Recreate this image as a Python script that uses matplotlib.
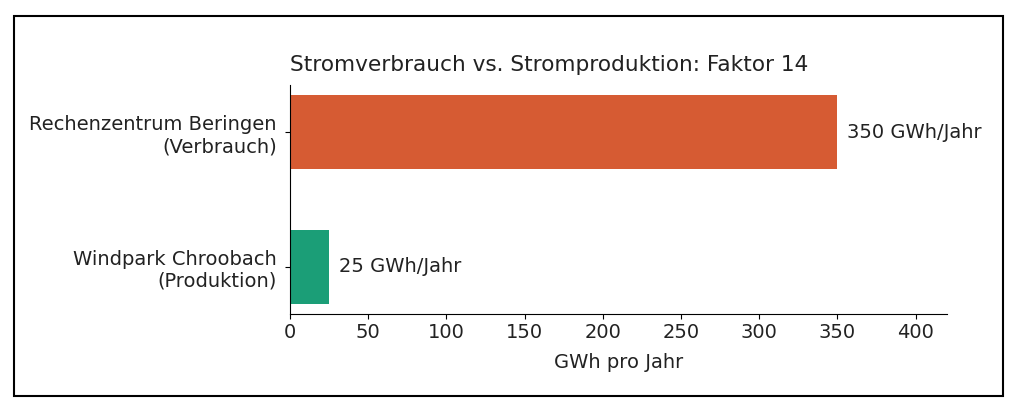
import matplotlib
matplotlib.use("Agg")
import matplotlib.pyplot as plt
from matplotlib.patches import Rectangle

categories = ["Rechenzentrum Beringen\n(Verbrauch)", "Windpark Chroobach\n(Produktion)"]
values = [350, 25]
labels = ["350 GWh/Jahr", "25 GWh/Jahr"]
colors = ["#d65b33", "#1b9e77"]
xticks = [0, 50, 100, 150, 200, 250, 300, 350, 400]

fs = 14
fig = plt.figure(figsize=(10.24, 4.17), dpi=100)
ax = fig.add_axes([0.2832, 0.2470, 0.9248 - 0.2832, 0.7962 - 0.2470])

ypos = [1, 0]
ax.barh(ypos, values, height=0.55, color=colors)
for y, v, t in zip(ypos, values, labels):
    ax.annotate(t, xy=(v, y), xytext=(7, 0), textcoords="offset points",
                va="center", ha="left", fontsize=fs, color="#222222")

ax.set_yticks(ypos)
ax.set_yticklabels(categories, fontsize=fs, ha="right", color="#222222")
ax.tick_params(axis="y", pad=6)
ax.set_xticks(xticks)
ax.tick_params(axis="x", labelsize=fs, labelcolor="#222222", pad=3)
ax.set_xlim(0, 420)
ax.set_xlabel("GWh pro Jahr", fontsize=fs, color="#222222", labelpad=8)
ax.set_title("Stromverbrauch vs. Stromproduktion: Faktor 14", fontsize=15.6, loc="left",
             color="#222222", pad=10)
ax.spines["top"].set_visible(False)
ax.spines["right"].set_visible(False)

fig.patches.append(Rectangle((14 / 1024, 1 - 396 / 417), (1003 - 14) / 1024, (396 - 16) / 417,
                             transform=fig.transFigure, fill=False, edgecolor="black",
                             linewidth=1.5))

fig.savefig("out.png", dpi=100)
